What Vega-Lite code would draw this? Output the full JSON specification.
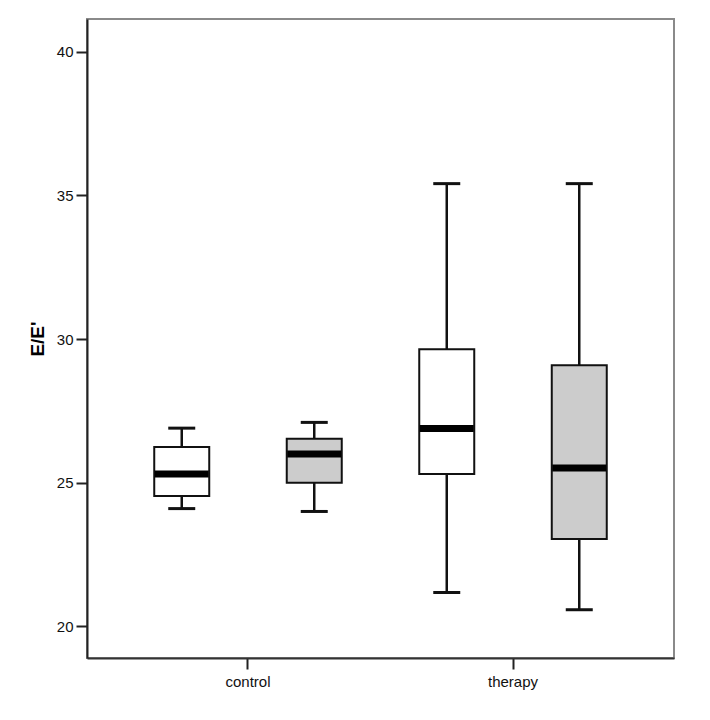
{
  "$schema": "https://vega.github.io/schema/vega-lite/v6.json",
  "width": 587,
  "height": 639,
  "autosize": {"type": "none"},
  "padding": {"left": 87, "top": 19, "right": 36, "bottom": 62},
  "background": "white",
  "config": {
    "view": {"stroke": "#8a8a8a", "strokeWidth": 2},
    "font": "Liberation Sans"
  },
  "data": {
    "values": [
      {"group": "control", "sub": "A", "lower": 24.10, "q1": 24.54, "median": 25.30, "q3": 26.24, "upper": 26.90},
      {"group": "control", "sub": "B", "lower": 24.00, "q1": 25.00, "median": 26.00, "q3": 26.53, "upper": 27.10},
      {"group": "therapy", "sub": "A", "lower": 21.18, "q1": 25.30, "median": 26.89, "q3": 29.65, "upper": 35.41},
      {"group": "therapy", "sub": "B", "lower": 20.58, "q1": 23.04, "median": 25.51, "q3": 29.09, "upper": 35.41}
    ]
  },
  "encoding": {
    "x": {
      "field": "group", "type": "nominal",
      "scale": {"paddingInner": 0, "paddingOuter": 0.1075},
      "axis": {
        "title": null, "labelAngle": 0, "labelFontSize": 15, "labelColor": "#111",
        "tickSize": 11, "tickWidth": 2, "tickColor": "#222", "labelPadding": 5,
        "domainColor": "#333", "domainWidth": 2
      }
    },
    "xOffset": {"field": "sub", "type": "nominal", "scale": {"paddingInner": 0, "paddingOuter": 0}}
  },
  "layer": [
    {
      "mark": {"type": "rule", "color": "#111", "strokeWidth": 2.5},
      "encoding": {
        "y": {
          "field": "lower", "type": "quantitative",
          "scale": {"domain": [18.9, 41.14], "nice": false, "zero": false},
          "axis": {
            "title": "E/E'", "titleFontSize": 19, "titleFontWeight": "bold", "titleColor": "#000",
            "titlePadding": 9, "values": [20, 25, 30, 35, 40], "grid": false,
            "labelFontSize": 15, "labelColor": "#111", "labelPadding": 3,
            "tickSize": 11, "tickWidth": 2, "tickColor": "#222",
            "domainColor": "#222", "domainWidth": 2
          }
        },
        "y2": {"field": "q1"}
      }
    },
    {
      "mark": {"type": "rule", "color": "#111", "strokeWidth": 2.5},
      "encoding": {
        "y": {"field": "q3", "type": "quantitative"},
        "y2": {"field": "upper"}
      }
    },
    {
      "mark": {"type": "bar", "size": 55, "stroke": "#111", "strokeWidth": 2},
      "encoding": {
        "y": {"field": "q1", "type": "quantitative"},
        "y2": {"field": "q3"},
        "fill": {
          "field": "sub", "type": "nominal",
          "scale": {"domain": ["A", "B"], "range": ["#ffffff", "#cccccc"]},
          "legend": null
        }
      }
    },
    {
      "mark": {"type": "tick", "color": "#000", "size": 54, "thickness": 7, "opacity": 1},
      "encoding": {"y": {"field": "median", "type": "quantitative"}}
    },
    {
      "mark": {"type": "tick", "color": "#111", "size": 27, "thickness": 3, "opacity": 1},
      "encoding": {"y": {"field": "lower", "type": "quantitative"}}
    },
    {
      "mark": {"type": "tick", "color": "#111", "size": 27, "thickness": 3, "opacity": 1},
      "encoding": {"y": {"field": "upper", "type": "quantitative"}}
    }
  ]
}
